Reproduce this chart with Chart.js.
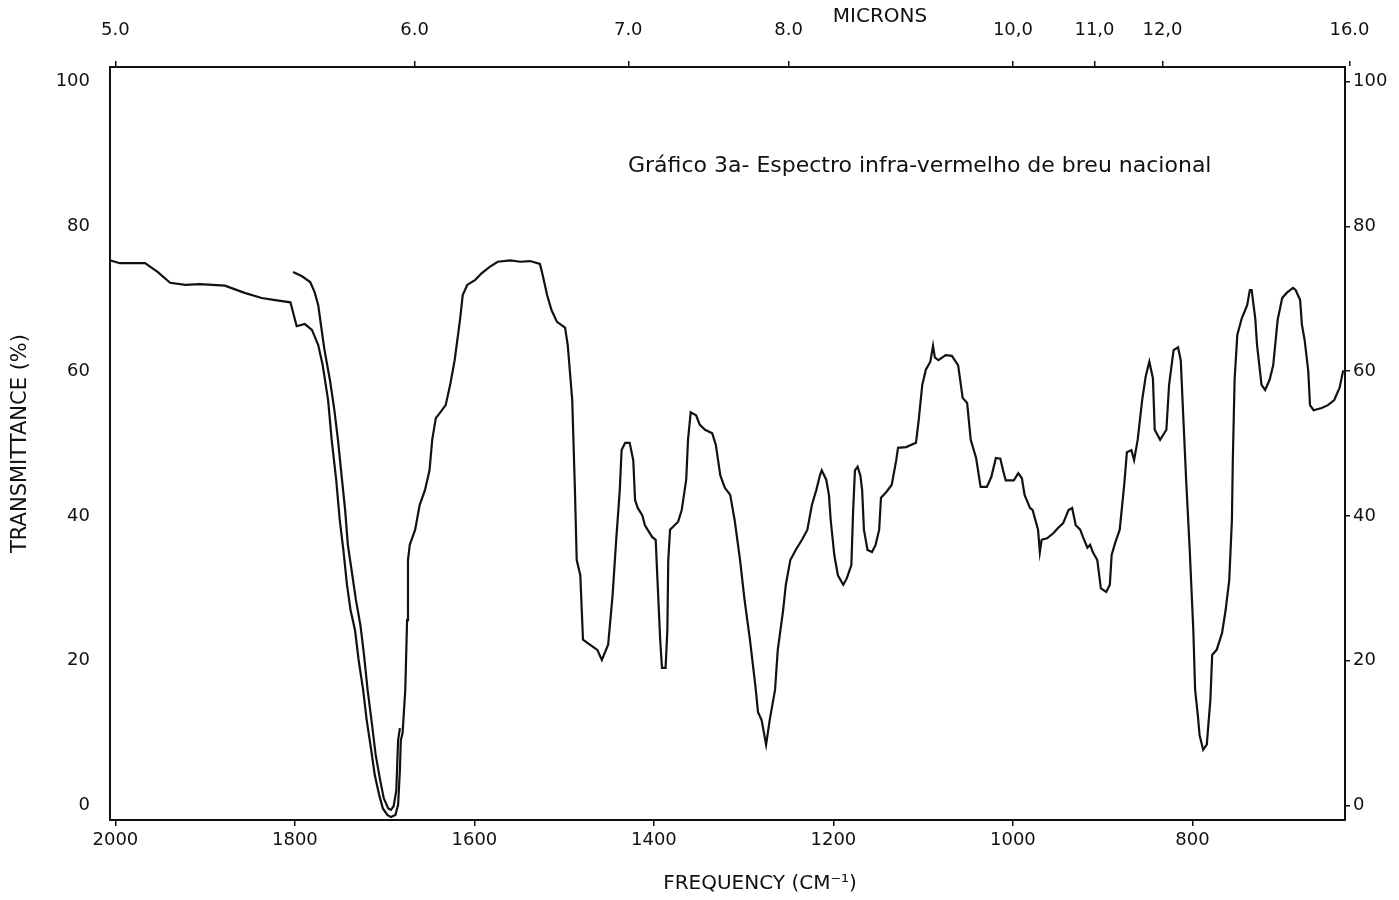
<!DOCTYPE html>
<html lang="pt">
<head>
<meta charset="utf-8">
<title>Gráfico 3a - Espectro infra-vermelho de breu nacional</title>
<script src="https://cdn.jsdelivr.net/npm/chart.js@4.4.1/dist/chart.umd.min.js"></script>
<style>
    html, body { margin: 0; padding: 0; background: #ffffff; overflow: hidden; }
    canvas { display: block; }
</style>
</head>
<body>
<canvas id="spectrumChart" width="1399" height="900"></canvas>
<script>
"use strict";

/*==========================================================
    DATA
    Frequency in cm-1, transmittance in %.
==========================================================*/

// main trace, 2000 -> 630 cm-1
const mainFrequency = [
    2006, 1995, 1967, 1953, 1939, 1922, 1906, 1878, 1856, 1837,
    1822, 1805, 1798, 1789, 1781, 1774, 1769, 1763, 1759, 1754,
    1750, 1746, 1742, 1738, 1733, 1729, 1724, 1720, 1715, 1711,
    1706, 1702, 1697, 1693, 1688, 1685, 1683, 1682, 1680, 1677,
    1675, 1674, 1672, 1666, 1661, 1655, 1650, 1647, 1643, 1638,
    1632, 1627, 1622, 1616, 1613, 1608, 1599, 1592, 1583, 1574,
    1560, 1549, 1538, 1527, 1524, 1519, 1514, 1508, 1499, 1496,
    1491, 1490, 1488, 1486, 1482, 1479, 1471, 1463, 1458, 1451,
    1448, 1446, 1442, 1438, 1436, 1432, 1427, 1423, 1421, 1418,
    1413, 1410, 1402, 1398, 1396, 1393, 1391, 1387, 1385, 1384,
    1382, 1373, 1369, 1364, 1362, 1359, 1353, 1349, 1343, 1335,
    1331, 1326, 1321, 1315, 1310, 1304, 1299, 1293, 1287, 1284,
    1280, 1275, 1271, 1265, 1262, 1256, 1253, 1248, 1242, 1235,
    1229, 1224, 1219, 1215, 1213, 1208, 1205, 1203, 1199, 1195,
    1189, 1185, 1180, 1178, 1176, 1173, 1170, 1168, 1166, 1162,
    1157, 1153, 1149, 1147, 1141, 1135, 1130, 1128, 1119, 1108,
    1105, 1101, 1097, 1092, 1089, 1087, 1083, 1075, 1068, 1061,
    1056, 1051, 1047, 1041, 1036, 1029, 1024, 1019, 1014, 1011,
    1008, 1003, 999, 994, 990, 987, 981, 978, 972, 970,
    968, 962, 955, 950, 944, 938, 934, 930, 925, 922,
    917, 914, 911, 906, 902, 896, 892, 890, 886, 881,
    876, 873, 868, 865, 861, 856, 852, 848, 844, 842,
    836, 829, 826, 821, 816, 813, 810, 807, 803, 799,
    797, 794, 792, 788, 784, 780, 778, 773, 767, 763,
    759, 756, 755, 753, 750, 745, 739, 736, 734, 730,
    728, 723, 719, 714, 710, 705, 700, 695, 688, 685,
    680, 678, 675, 671, 669, 665, 656, 649, 642, 636,
    632
];

const mainTransmittance = [
    75.3, 74.9, 74.9, 73.7, 72.2, 71.9, 72.0, 71.8, 70.8, 70.1,
    69.8, 69.5, 66.2, 66.5, 65.7, 63.6, 60.8, 56.0, 50.5, 45.0,
    39.4, 35.3, 30.5, 27.0, 24.2, 20.1, 16.0, 11.8, 7.7, 4.2,
    1.4, -0.4, -1.3, -1.6, -1.3, 0.1, 4.9, 9.0, 10.0, 16.0,
    25.6, 33.9, 36.0, 38.1, 41.5, 43.6, 46.3, 50.5, 53.5, 54.3,
    55.3, 58.1, 61.5, 67.1, 70.5, 71.9, 72.6, 73.5, 74.4, 75.1,
    75.3, 75.1, 75.2, 74.8, 73.3, 70.5, 68.4, 66.8, 66.0, 63.6,
    56.0, 51.9, 43.6, 33.9, 31.8, 22.9, 22.2, 21.5, 20.1, 22.2,
    26.3, 29.1, 36.7, 43.6, 49.1, 50.1, 50.1, 47.7, 42.2, 41.1,
    40.1, 38.7, 37.1, 36.7, 31.1, 22.9, 19.0, 19.0, 24.2, 33.9,
    38.1, 39.2, 40.8, 45.0, 50.5, 54.3, 53.9, 52.6, 51.9, 51.4,
    49.8, 45.6, 43.9, 42.9, 39.4, 33.9, 28.4, 22.9, 16.6, 12.9,
    11.8, 8.4, 11.8, 16.0, 21.5, 27.0, 30.5, 33.9, 35.3, 36.7,
    38.1, 41.5, 43.6, 45.6, 46.3, 45.0, 42.9, 39.4, 34.6, 31.8,
    30.5, 31.4, 33.2, 40.8, 46.3, 46.8, 45.6, 43.6, 38.1, 35.3,
    35.0, 36.0, 38.1, 42.5, 43.3, 44.3, 47.7, 49.4, 49.5, 50.1,
    53.2, 58.1, 60.2, 61.3, 63.5, 61.9, 61.5, 62.2, 62.1, 60.8,
    56.3, 55.6, 50.5, 48.0, 44.0, 44.0, 45.4, 48.0, 47.9, 46.3,
    44.9, 44.9, 44.9, 45.9, 45.2, 42.9, 41.1, 40.8, 38.1, 35.0,
    36.7, 36.9, 37.6, 38.3, 39.0, 40.8, 41.1, 38.7, 38.1, 37.1,
    35.6, 36.0, 35.0, 33.9, 30.0, 29.5, 30.5, 34.6, 36.3, 38.1,
    44.3, 48.8, 49.1, 47.7, 50.5, 56.0, 59.3, 61.3, 59.0, 51.9,
    50.5, 51.9, 58.1, 62.9, 63.3, 61.5, 53.2, 45.0, 35.3, 24.2,
    16.0, 12.5, 9.7, 7.7, 8.4, 14.6, 20.8, 21.5, 23.8, 27.0,
    31.1, 39.4, 47.7, 58.8, 65.0, 67.3, 69.1, 71.2, 71.2, 67.3,
    63.6, 58.1, 57.4, 58.8, 60.8, 67.1, 70.1, 70.8, 71.5, 71.2,
    69.8, 66.4, 64.3, 60.1, 55.3, 54.6, 54.9, 55.3, 56.0, 57.7,
    60.1
];

// second pass over the carbonyl band, 1800 -> 1683 cm-1
const repeatFrequency = [
    1802, 1792, 1783, 1778, 1774, 1771, 1767, 1761, 1756, 1752,
    1748, 1744, 1741, 1736, 1732, 1727, 1723, 1719, 1714, 1710,
    1705, 1701, 1696, 1693, 1690, 1687, 1686, 1685, 1683
];

const repeatTransmittance = [
    73.7, 73.1, 72.3, 70.9, 69.1, 66.4, 62.9, 58.8, 54.6, 50.5,
    45.6, 40.8, 36.0, 31.8, 28.4, 24.9, 20.8, 16.0, 11.1, 7.0,
    3.5, 1.0, -0.4, -0.6, -0.1, 2.1, 5.6, 9.0, 10.7
];

const frequencyTicks = [2000, 1800, 1600, 1400, 1200, 1000, 800];
const transmittanceTicks = [0, 20, 40, 60, 80, 100];

const micronTicks = [5, 6, 7, 8, 10, 11, 12, 16];
const micronLabels = ["5.0", "6.0", "7.0", "8.0", "10,0", "11,0", "12,0", "16.0"];



/*==========================================================
    STYLE
==========================================================*/

const INK = "#111111";
const FONT = "'DejaVu Sans', 'Liberation Sans', sans-serif";

const FREQ_MIN = 630;
const FREQ_MAX = 2006;



/*==========================================================
    HELPERS
==========================================================*/

function toPoints(xs, ys) {

    return xs.map((x, i) => ({ x: x, y: ys[i] }));

}

function fixTicks(values) {

    return (scale) => {

        scale.ticks = values.map((v) => ({ value: v }));

    };

}

// plain numbers, no thousands separator
const plainLabel = (value) => String(value);



/*==========================================================
    FREE TEXT (title note, axis names)
==========================================================*/

const textPlugin = {

    id: "freeText",

    afterDraw(chart) {

        const ctx = chart.ctx;

        ctx.save();
        ctx.fillStyle = INK;
        ctx.textBaseline = "middle";
        ctx.textAlign = "center";

        ctx.font = `20px ${FONT}`;
        ctx.fillText("MICRONS", 880, 17);

        ctx.font = `20px ${FONT}`;
        ctx.fillText("FREQUENCY (CM\u207B\u00B9)", 760, 884);

        // note written inside the plot
        const note = "Gráfico 3a- Espectro infra-vermelho de breu nacional";
        let size = 19;
        ctx.font = `${size}px ${FONT}`;
        size = size * 584 / ctx.measureText(note).width;
        ctx.font = `${size.toFixed(1)}px ${FONT}`;
        ctx.textAlign = "left";
        ctx.fillText(note, 628, 166);

        ctx.restore();

    }

};



/*==========================================================
    CHART
==========================================================*/

const axisGrid = {
    display: true,
    drawOnChartArea: false,
    drawTicks: true,
    tickLength: 6,
    color: INK,
    lineWidth: 1.5
};

const axisBorder = { display: true, color: INK, width: 2 };

const tickFont = { family: FONT, size: 18 };

new Chart(document.getElementById("spectrumChart"), {

    type: "line",

    data: {

        datasets: [

            {
                label: "Breu nacional",
                data: toPoints(mainFrequency, mainTransmittance),
                borderColor: INK,
                borderWidth: 2.2,
                pointRadius: 0,
                tension: 0,
                fill: false
            },

            {
                label: "Breu nacional (repetição)",
                data: toPoints(repeatFrequency, repeatTransmittance),
                borderColor: INK,
                borderWidth: 2.2,
                pointRadius: 0,
                tension: 0,
                fill: false
            }

        ]

    },

    options: {

        responsive: false,
        animation: false,
        layout: { padding: 0 },

        plugins: {
            legend: { display: false },
            tooltip: { enabled: false }
        },

        scales: {

            x: {
                type: "linear",
                position: "bottom",
                reverse: true,
                min: FREQ_MIN,
                max: FREQ_MAX,
                afterBuildTicks: fixTicks(frequencyTicks),
                afterFit: (scale) => { scale.height = 80; },
                grid: axisGrid,
                border: axisBorder,
                ticks: {
                    color: INK,
                    font: tickFont,
                    padding: 4,
                    maxRotation: 0,
                    callback: plainLabel
                }
            },

            x2: {
                type: "linear",
                position: "top",
                reverse: true,
                min: FREQ_MIN,
                max: FREQ_MAX,
                afterBuildTicks: (scale) => {
                    scale.ticks = micronTicks.map((m) => ({ value: 10000 / m }));
                },
                afterFit: (scale) => { scale.height = 67; },
                grid: axisGrid,
                border: axisBorder,
                ticks: {
                    color: INK,
                    font: tickFont,
                    padding: 20,
                    maxRotation: 0,
                    callback: (value, index) => micronLabels[index]
                }
            },

            y: {
                type: "linear",
                position: "left",
                min: -2,
                max: 102,
                afterBuildTicks: fixTicks(transmittanceTicks),
                afterFit: (scale) => { scale.width = 110; },
                grid: { ...axisGrid, drawTicks: false },
                border: axisBorder,
                ticks: {
                    color: INK,
                    font: tickFont,
                    padding: 20,
                    callback: plainLabel
                },
                title: {
                    display: true,
                    text: "TRANSMITTANCE (%)",
                    color: INK,
                    font: { family: FONT, size: 21 },
                    padding: { top: 8, bottom: 0 }
                }
            },

            y2: {
                type: "linear",
                position: "right",
                min: -2,
                max: 102,
                afterBuildTicks: fixTicks(transmittanceTicks),
                afterFit: (scale) => { scale.width = 54; },
                grid: { ...axisGrid, tickLength: 5 },
                border: axisBorder,
                ticks: {
                    color: INK,
                    font: tickFont,
                    padding: 3,
                    callback: plainLabel
                }
            }

        }

    },

    plugins: [textPlugin]

});
</script>
</body>
</html>
